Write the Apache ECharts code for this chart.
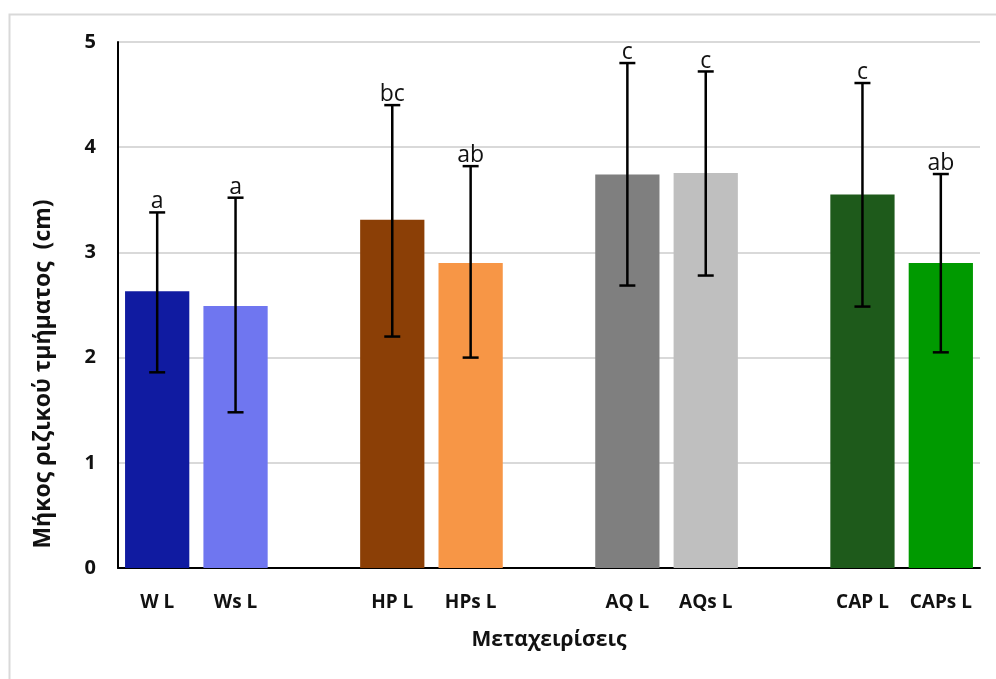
<!DOCTYPE html>
<html>
<head>
<meta charset="utf-8">
<script src="https://cdn.jsdelivr.net/npm/echarts@6/dist/echarts.min.js"></script>
<style>html,body{margin:0;padding:0;background:#fff;}#chart{width:996px;height:679px;}</style>
</head>
<body>
<div id="chart"></div>
<script>
const categories = ['W L', 'Ws L', '', 'HP L', 'HPs L', '', 'AQ L', 'AQs L', '', 'CAP L', 'CAPs L'];
const means      = [2.63, 2.49, null, 3.31, 2.90, null, 3.74, 3.755, null, 3.55, 2.90];
const errLow     = [1.86, 1.48, null, 2.20, 2.00, null, 2.685, 2.78, null, 2.485, 2.05];
const errHigh    = [3.38, 3.52, null, 4.40, 3.82, null, 4.80, 4.72, null, 4.61, 3.745];
const letters    = ['a', 'a', '', 'bc', 'ab', '', 'c', 'c', '', 'c', 'ab'];
const barColors  = ['#101BA1', '#6F76F0', null, '#8B3F06', '#F79646', null, '#7F7F7F', '#BFBFBF', null, '#1E5A1B', '#009A00'];
const yTicks     = [0, 1, 2, 3, 4, 5];
const yTitle     = 'Μήκος ριζικού τμήματος  (cm)';
const xTitle     = 'Μεταχειρίσεις';

const font = '"Open Sans", "Noto Sans", sans-serif';
const chart = echarts.init(document.getElementById('chart'), null, {renderer: 'canvas'});

const barData = means.map((v, i) => v == null ? null : {value: v, itemStyle: {color: barColors[i]}});
const errData = categories.map((c, i) => [i, errLow[i], errHigh[i], letters[i]]).filter(d => d[1] != null);

chart.setOption({
  animation: false,
  backgroundColor: '#fff',
  graphic: [{
    type: 'rect', left: 7, top: 12, shape: {width: 1100, height: 800},
    style: {fill: 'none', stroke: '#d9d9d9', lineWidth: 2}, silent: true, z: -1
  }, {
    type: 'text', x: 43, y: 374, rotation: Math.PI / 2, silent: true,
    style: {text: yTitle, align: 'center', verticalAlign: 'middle',
      font: 'bold 23px ' + font, fill: '#111'}
  }],
  grid: {left: 118, right: 16, top: 42, bottom: 111, containLabel: false},
  xAxis: {
    type: 'category', data: categories,
    name: xTitle, nameLocation: 'middle', nameGap: 62,
    nameTextStyle: {fontFamily: font, fontWeight: 'bold', fontSize: 21, color: '#111'},
    axisLine: {show: true, lineStyle: {color: '#000', width: 2}},
    axisTick: {show: false},
    axisLabel: {fontFamily: font, fontWeight: 'bold', fontSize: 19, color: '#111', margin: 25, interval: 0}
  },
  yAxis: {
    type: 'value', min: 0, max: 5, interval: 1,
    axisLine: {show: true, lineStyle: {color: '#000', width: 2}},
    axisTick: {show: false},
    axisLabel: {fontFamily: font, fontWeight: 'bold', fontSize: 20, color: '#111', margin: 22,
      formatter: v => yTicks.includes(v) ? String(v) : ''},
    splitLine: {show: true, lineStyle: {color: '#d9d9d9', width: 2}}
  },
  series: [
    {
      type: 'bar', data: barData, barWidth: '82%', z: 2
    },
    {
      type: 'custom', z: 5,
      data: errData,
      renderItem: function (params, api) {
        const x = api.coord([api.value(0), 0])[0];
        const lo = api.coord([api.value(0), api.value(1)])[1];
        const hi = api.coord([api.value(0), api.value(2)])[1];
        const letter = errData[params.dataIndex][3];
        const cap = 8;
        const st = {stroke: '#000', lineWidth: 2.5};
        return {
          type: 'group',
          children: [
            {type: 'line', shape: {x1: x, y1: lo, x2: x, y2: hi}, style: st},
            {type: 'line', shape: {x1: x - cap, y1: hi, x2: x + cap, y2: hi}, style: st},
            {type: 'line', shape: {x1: x - cap, y1: lo, x2: x + cap, y2: lo}, style: st},
            {type: 'text', style: {text: letter, x: x, y: hi + 1, align: 'center', verticalAlign: 'bottom',
              font: '23px ' + font, fill: '#111'}}
          ]
        };
      }
    }
  ]
});
</script>
</body>
</html>
